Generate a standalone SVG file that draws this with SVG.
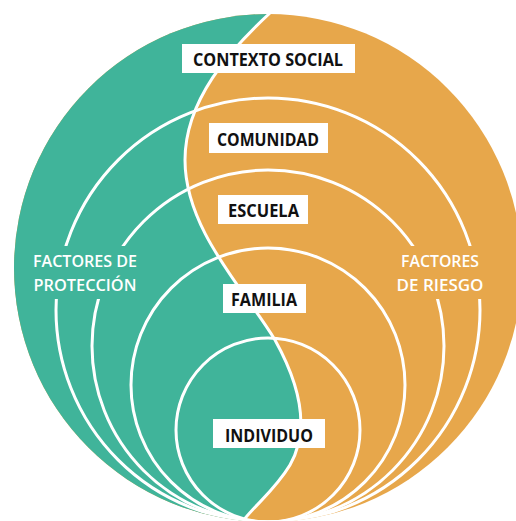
<svg xmlns="http://www.w3.org/2000/svg" width="516" height="521" viewBox="0 0 516 521">
<style>
.ring{fill:none;stroke:#fff;stroke-width:3}
.box{fill:#fff}
.lbl{font-family:"Open Sans","Liberation Sans",sans-serif;font-weight:700;font-size:18px;fill:#111;text-anchor:middle}
.side{font-family:"Open Sans","Liberation Sans",sans-serif;font-weight:600;font-size:16px;fill:#fff;text-anchor:middle}
</style>
<defs>
<clipPath id="outer"><circle cx="268" cy="268" r="254"/></clipPath>
</defs>
<rect width="516" height="521" fill="#fff"/>
<g id="background" clip-path="url(#outer)">
<rect x="0" y="0" width="516" height="521" fill="#E7A74B"/>
<path d="M270,13 C230,50 185,100 185,160 C185,230 245,290 275,340 C300,385 310,430 290,465 C275,490 255,505 243,521 L0,521 L0,0 Z" fill="#40B49A"/>
</g>
<g id="connectors" clip-path="url(#outer)">
<path d="M270,13 C230,50 185,100 185,160 C185,230 245,290 275,340 C300,385 310,430 290,465 C275,490 255,505 243,521" fill="none" stroke="#fff" stroke-width="3"/>
<circle class="ring" cx="268" cy="310" r="212"/>
<circle class="ring" cx="268" cy="346" r="176"/>
<circle class="ring" cx="268" cy="385" r="137"/>
<circle class="ring" cx="268" cy="430" r="92"/>
<rect x="40" y="246" width="102" height="53" fill="#40B49A"/>
<rect x="390" y="246" width="102" height="53" fill="#E7A74B"/>
</g>
<g id="proteccion">
<text class="side" x="85" y="267" textLength="104" lengthAdjust="spacingAndGlyphs">FACTORES DE</text>
<text class="side" x="85" y="291" textLength="103" lengthAdjust="spacingAndGlyphs">PROTECCIÓN</text>
</g>
<g id="riesgo">
<text class="side" x="440" y="267" textLength="78" lengthAdjust="spacingAndGlyphs">FACTORES</text>
<text class="side" x="440" y="291" textLength="87" lengthAdjust="spacingAndGlyphs">DE RIESGO</text>
</g>
<g id="contexto">
<rect class="box" x="182" y="44" width="173" height="29"/>
<text class="lbl" x="268" y="66" textLength="150" lengthAdjust="spacingAndGlyphs">CONTEXTO SOCIAL</text>
</g>
<g id="comunidad">
<rect class="box" x="209" y="123" width="119" height="30"/>
<text class="lbl" x="268" y="146" textLength="102" lengthAdjust="spacingAndGlyphs">COMUNIDAD</text>
</g>
<g id="escuela">
<rect class="box" x="218" y="195" width="90" height="29"/>
<text class="lbl" x="263.5" y="217" textLength="71" lengthAdjust="spacingAndGlyphs">ESCUELA</text>
</g>
<g id="familia">
<rect class="box" x="223" y="284" width="83" height="29"/>
<text class="lbl" x="264" y="306" textLength="66" lengthAdjust="spacingAndGlyphs">FAMILIA</text>
</g>
<g id="individuo">
<rect class="box" x="213" y="419" width="112" height="29"/>
<text class="lbl" x="269" y="442" textLength="88" lengthAdjust="spacingAndGlyphs">INDIVIDUO</text>
</g>
</svg>
